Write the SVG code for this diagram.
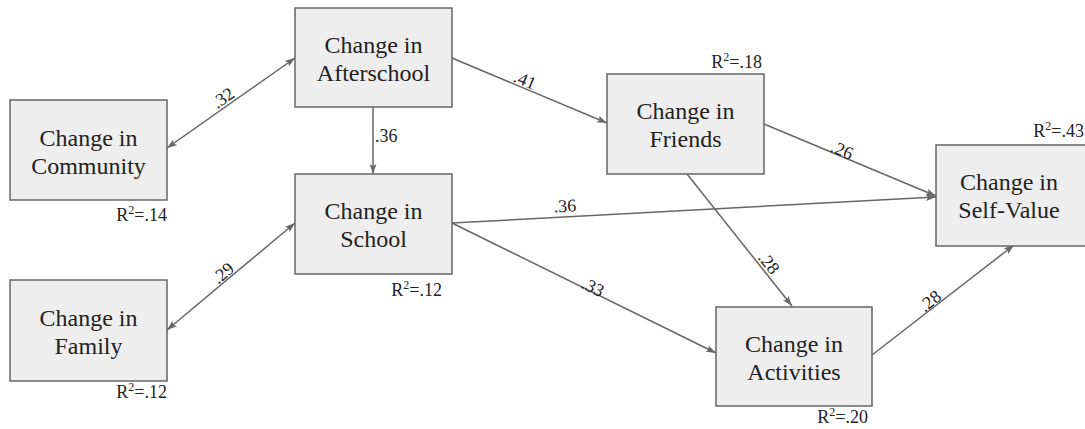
<svg xmlns="http://www.w3.org/2000/svg" width="1085" height="429" viewBox="0 0 1085 429">
<style>
.box{fill:#eeeeee;stroke:#666666;stroke-width:1.5}
.t{font-family:'Liberation Serif',Tinos,'Times New Roman','Noto Serif','DejaVu Serif',serif;font-size:24px;fill:#222;text-anchor:middle}
.r{font-family:'Liberation Serif',Tinos,'Times New Roman','Noto Serif','DejaVu Serif',serif;font-size:18px;fill:#222;text-anchor:end}
.s{font-family:'Liberation Serif',Tinos,'Times New Roman','Noto Serif','DejaVu Serif',serif;font-size:18px;fill:#222;text-anchor:start}
.l{font-family:'Liberation Serif',Tinos,'Times New Roman','Noto Serif','DejaVu Serif',serif;font-size:18px;fill:#222;text-anchor:middle}
.c{stroke:#666666;stroke-width:1.5;fill:none}
</style>
<defs>
<marker id="ah" viewBox="0 0 10 8" refX="10" refY="4" markerWidth="10" markerHeight="8" markerUnits="userSpaceOnUse" orient="auto-start-reverse">
<path d="M0,0.5 L10,4 L0,7.5 L2,4 z" fill="#666666"/>
</marker>
</defs>
<rect width="1085" height="429" fill="#ffffff"/>
<g id="connectors">
<line class="c" x1="167" y1="148" x2="295" y2="58" marker-start="url(#ah)" marker-end="url(#ah)"/>
<line class="c" x1="167" y1="330" x2="295" y2="223" marker-start="url(#ah)" marker-end="url(#ah)"/>
<line class="c" x1="373" y1="107" x2="373" y2="174" marker-end="url(#ah)"/>
<line class="c" x1="452" y1="58" x2="607" y2="123" marker-end="url(#ah)"/>
<line class="c" x1="764" y1="124" x2="936" y2="196" marker-end="url(#ah)"/>
<line class="c" x1="452" y1="223" x2="936" y2="197" marker-end="url(#ah)"/>
<line class="c" x1="452" y1="223" x2="716" y2="353" marker-end="url(#ah)"/>
<line class="c" x1="687" y1="174" x2="792" y2="306" marker-end="url(#ah)"/>
<line class="c" x1="872" y1="355" x2="1014" y2="245" marker-end="url(#ah)"/>
<text class="l" transform="translate(223,98) rotate(-35)" y="6">.32</text>
<text class="l" transform="translate(223,273) rotate(-40)" y="6">.29</text>
<text class="s" x="375" y="142">.36</text>
<text class="l" transform="translate(525,80) rotate(22.7)" y="6">.41</text>
<text class="l" transform="translate(842,150) rotate(22.7)" y="6">.26</text>
<text class="l" transform="translate(565,206) rotate(-3.2)" y="6">.36</text>
<text class="l" transform="translate(593,287) rotate(26.3)" y="6">.33</text>
<text class="l" transform="translate(769,263) rotate(51.5)" y="6">.28</text>
<text class="l" transform="translate(930,301) rotate(-37.8)" y="6">.28</text>
</g>
<g id="community">
<rect class="box" x="10" y="100" width="157" height="100"/>
<text class="t" x="88.5" y="146">Change in</text>
<text class="t" x="88.5" y="174">Community</text>
<text class="r" x="167" y="221">R<tspan font-size="12" dy="-7">2</tspan><tspan dy="7">=.14</tspan></text>
</g>
<g id="family">
<rect class="box" x="10" y="280" width="157" height="101"/>
<text class="t" x="88.5" y="326">Change in</text>
<text class="t" x="88.5" y="354">Family</text>
<text class="r" x="167" y="398">R<tspan font-size="12" dy="-7">2</tspan><tspan dy="7">=.12</tspan></text>
</g>
<g id="afterschool">
<rect class="box" x="295" y="8" width="157" height="99"/>
<text class="t" x="373.5" y="53">Change in</text>
<text class="t" x="373.5" y="81">Afterschool</text>
</g>
<g id="school">
<rect class="box" x="295" y="174" width="157" height="100"/>
<text class="t" x="373.5" y="219">Change in</text>
<text class="t" x="373.5" y="247">School</text>
<text class="r" x="442" y="296">R<tspan font-size="12" dy="-7">2</tspan><tspan dy="7">=.12</tspan></text>
</g>
<g id="friends">
<rect class="box" x="607" y="74" width="157" height="100"/>
<text class="t" x="685.5" y="119">Change in</text>
<text class="t" x="685.5" y="147">Friends</text>
<text class="r" x="762" y="68">R<tspan font-size="12" dy="-7">2</tspan><tspan dy="7">=.18</tspan></text>
</g>
<g id="selfvalue">
<rect class="box" x="936" y="145" width="157" height="101"/>
<text class="t" x="1009" y="190">Change in</text>
<text class="t" x="1009" y="218">Self-Value</text>
<text class="r" x="1084" y="137">R<tspan font-size="12" dy="-7">2</tspan><tspan dy="7">=.43</tspan></text>
</g>
<g id="activities">
<rect class="box" x="716" y="307" width="156" height="99"/>
<text class="t" x="794" y="352">Change in</text>
<text class="t" x="794" y="380">Activities</text>
<text class="r" x="868" y="423">R<tspan font-size="12" dy="-7">2</tspan><tspan dy="7">=.20</tspan></text>
</g>
</svg>
